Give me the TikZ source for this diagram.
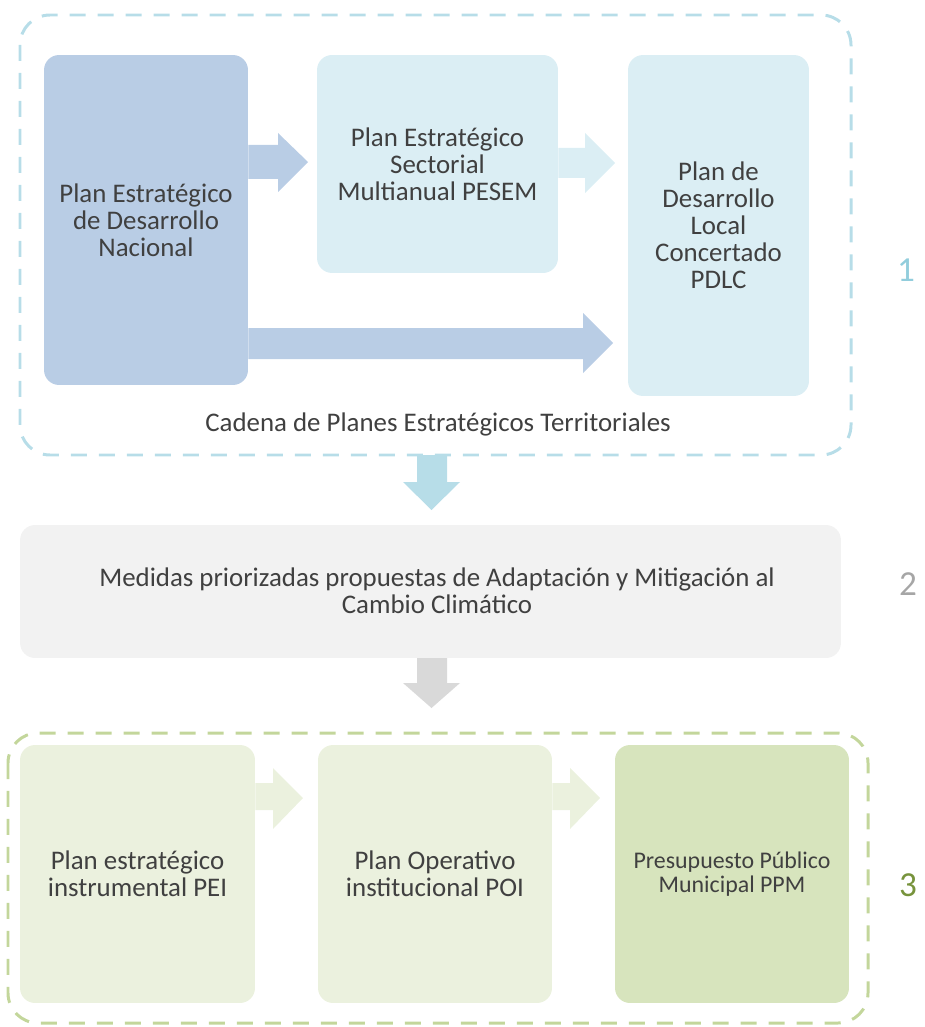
\documentclass[tikz,border=0pt]{standalone}
\usepackage{fontspec}
\setmainfont{Carlito}
\usetikzlibrary{positioning}

\definecolor{navy}{HTML}{B9CDE5}
\definecolor{sky}{HTML}{DBEEF4}
\definecolor{skyline}{HTML}{B7DDE8}
\definecolor{numblue}{HTML}{92CDDC}
\definecolor{greybox}{HTML}{F2F2F2}
\definecolor{greyarrow}{HTML}{D9D9D9}
\definecolor{numgrey}{HTML}{A6A6A6}
\definecolor{leaf}{HTML}{EBF1DE}
\definecolor{leafdark}{HTML}{D7E4BD}
\definecolor{leafline}{HTML}{C3D69B}
\definecolor{numgreen}{HTML}{77933C}
\definecolor{ink}{HTML}{404040}

\begin{document}
\begin{tikzpicture}[x=0.02cm, y=-0.02cm,
        font=\fontsize{15.3}{15.3}\selectfont, text=ink,
        planbox/.style={rectangle, rounded corners=0.3cm, inner sep=0pt, align=center},
        chainbox/.style={line width=1.7pt, dash pattern=on 0.32cm off 0.24cm, rounded corners=0.6cm},
        number/.style={font=\fontsize{20}{24}\selectfont}]
        \useasboundingbox (0,0) rectangle (924,1027);

        % cadena de planes
        \draw[chainbox, skyline] (20,15) rectangle (851,455);
        \node[planbox, fill=navy, minimum width=4.08cm, minimum height=6.6cm] (pedn) at (146,220) {Plan Estratégico\\de Desarrollo\\Nacional};
        \node[planbox, fill=sky, minimum width=4.82cm, minimum height=4.36cm] (pesem) at (437.5,164) {Plan Estratégico\\Sectorial\\Multianual PESEM};
        \node[planbox, fill=sky, minimum width=3.62cm, minimum height=6.82cm] (pdlc) at (718.5,225.5) {Plan de\\Desarrollo\\Local\\Concertado\\PDLC};
        \node (cadena) at (438,424) {Cadena de Planes Estratégicos Territoriales};

        \fill[navy] (pedn.east |- 0,145) -- (278,145) -- (278,133) -- (308,162) -- (278,192) -- (278,179) -- (pedn.east |- 0,179) -- cycle;
        \fill[sky] (pesem.east |- 0,148) -- (585,148) -- (585,133) -- (615,163) -- (585,193) -- (585,178) -- (pesem.east |- 0,178) -- cycle;
        \fill[navy] (pedn.east |- 0,328) -- (583,328) -- (583,313) -- (613,343) -- (583,373) -- (583,359) -- (pedn.east |- 0,359) -- cycle;

        % medidas
        \node[planbox, fill=greybox, minimum width=16.42cm, minimum height=2.66cm] (medidas) at (430.5,591.5) {};
        \node[align=center] (medtext) at (437,591) {Medidas priorizadas propuestas de Adaptación y Mitigación al\\Cambio Climático};
        \fill[skyline] (417,455) -- (447,455) -- (447,482) -- (460,482) -- (431.5,510) -- (403,482) -- (417,482) -- cycle;
        \fill[greyarrow] (417,658) -- (447,658) -- (447,683) -- (460,683) -- (431.5,708) -- (403,683) -- (417,683) -- cycle;

        % planes institucionales
        \draw[chainbox, leafline] (8,733) rectangle (868,1023);
        \node[planbox, fill=leaf, minimum width=4.7cm, minimum height=5.16cm] (pei) at (137.5,874) {Plan estratégico\\instrumental PEI};
        \node[planbox, fill=leaf, minimum width=4.68cm, minimum height=5.16cm] (poi) at (435,874) {Plan Operativo\\institucional POI};
        \node[planbox, fill=leafdark, minimum width=4.68cm, minimum height=5.16cm, font=\fontsize{13.6}{13.6}\selectfont] (ppm) at (732,874) {Presupuesto Público\\Municipal PPM};

        \fill[leaf] (pei.east |- 0,783) -- (273,783) -- (273,768) -- (303,798) -- (273,829) -- (273,810) -- (pei.east |- 0,810) -- cycle;
        \fill[leaf] (poi.east |- 0,783) -- (570,783) -- (570,768) -- (600,798) -- (570,829) -- (570,810) -- (poi.east |- 0,810) -- cycle;

        % numeros
        \node[number, text=numblue] (n1) at (906,270) {1};
        \node[number, text=numgrey] (n2) at (908,584) {2};
        \node[number, text=numgreen] (n3) at (908,885) {3};
\end{tikzpicture}
\end{document}
